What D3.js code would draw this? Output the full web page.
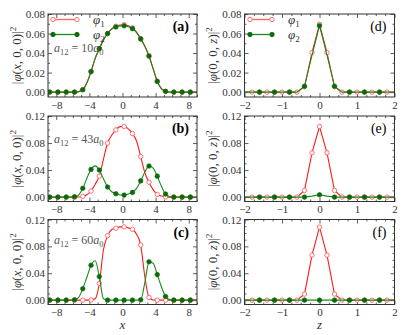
<!DOCTYPE html>
<html>
<head>
<meta charset="utf-8">
<script src="https://cdn.jsdelivr.net/npm/d3@7"></script>
<style>
body { margin: 0; background: #fff; }
svg text { font-family: "Liberation Serif", "DejaVu Serif", serif; }
</style>
</head>
<body>
<div id="chart"></div>
<script>
// x grid of the left column (markers sit on every other point)
const xGrid = [-9.3, -8.8, -8.3, -7.8, -7.3, -6.8, -6.3, -5.8, -5.3, -4.8, -4.3, -3.8, -3.3, -2.8, -2.3, -1.8, -1.3, -0.8, -0.3,
               0.2, 0.7, 1.2, 1.7, 2.2, 2.7, 3.2, 3.7, 4.2, 4.7, 5.2, 5.7, 6.2, 6.7, 7.2, 7.7, 8.2, 8.7, 9.2];

// (a) a12 = 10 a0
const phi1A = [0, 0, 0, 0, 0, 0, 0, 0, 0.0005, 0.0025, 0.0095, 0.021, 0.0345, 0.0445, 0.0535, 0.060, 0.065, 0.0675, 0.0688,
               0.069, 0.068, 0.0657, 0.0615, 0.0545, 0.047, 0.037, 0.024, 0.011, 0.0035, 0.0008, 0, 0, 0, 0, 0, 0, 0, 0];
const phi2A = [0, 0, 0, 0, 0, 0, 0, 0, 0.0005, 0.0025, 0.0095, 0.021, 0.0345, 0.0445, 0.0535, 0.060, 0.0645, 0.0667, 0.0678,
               0.0679, 0.067, 0.065, 0.061, 0.0545, 0.047, 0.037, 0.024, 0.011, 0.0035, 0.0008, 0, 0, 0, 0, 0, 0, 0, 0];
// (b) a12 = 43 a0
const phi1B = [0, 0, 0, 0, 0, 0, 0, 0, 0.0002, 0.001, 0.0035, 0.009, 0.019, 0.031, 0.056, 0.080, 0.0915, 0.0995, 0.1043,
               0.1045, 0.101, 0.094, 0.083, 0.060, 0.036, 0.022, 0.011, 0.004, 0.0015, 0.0003, 0, 0, 0, 0, 0, 0, 0, 0];
const phi2B = [0, 0, 0, 0, 0, 0, 0, 0.0005, 0.003, 0.013, 0.028, 0.041, 0.0462, 0.040, 0.027, 0.015, 0.008, 0.005, 0.0032,
               0.003, 0.0045, 0.007, 0.013, 0.024, 0.037, 0.046, 0.043, 0.031, 0.016, 0.0045, 0.0008, 0, 0, 0, 0, 0, 0, 0];
// (c) a12 = 60 a0
const phi1C = [0, 0, 0, 0, 0, 0, 0, 0, 0, 0, 0, 0.0002, 0.002, 0.025, 0.075, 0.096, 0.105, 0.107, 0.109,
               0.109, 0.1075, 0.1055, 0.098, 0.082, 0.035, 0.004, 0.0003, 0, 0, 0, 0, 0, 0, 0, 0, 0, 0, 0];
const phi2C = [0, 0, 0, 0, 0, 0, 0, 0.0005, 0.004, 0.017, 0.034, 0.052, 0.0585, 0.035, 0.002, 0, 0, 0, 0,
               0, 0, 0, 0, 0.0005, 0.026, 0.057, 0.055, 0.038, 0.020, 0.0054, 0.0008, 0, 0, 0, 0, 0, 0, 0];

// z grid of the right column
const zGrid = [-2, -1.8, -1.6, -1.4, -1.2, -1, -0.8, -0.6, -0.4, -0.2, 0, 0.2, 0.4, 0.6, 0.8, 1, 1.2, 1.4, 1.6, 1.8, 2];
const phi1D = [0, 0, 0, 0, 0, 0, 0, 0, 0.0055, 0.0405, 0.0695, 0.0405, 0.0055, 0, 0, 0, 0, 0, 0, 0, 0];
const phi2D = [0, 0, 0, 0, 0, 0, 0, 0, 0.006, 0.038, 0.068, 0.038, 0.006, 0, 0, 0, 0, 0, 0, 0, 0];
const phi1E = [0, 0, 0, 0, 0, 0, 0, 0, 0.0099, 0.0655, 0.1045, 0.0655, 0.0099, 0, 0, 0, 0, 0, 0, 0, 0];
const phi2E = [0, 0, 0, 0, 0, 0, 0, 0, 0, 0.0015, 0.0035, 0.0015, 0, 0, 0, 0, 0, 0, 0, 0, 0];
const phi1F = [0, 0, 0, 0, 0, 0, 0, 0, 0.009, 0.067, 0.1085, 0.067, 0.009, 0, 0, 0, 0, 0, 0, 0, 0];
const phi2F = [0, 0, 0, 0, 0, 0, 0, 0, 0, 0, 0, 0, 0, 0, 0, 0, 0, 0, 0, 0, 0];

const xTicks = [-8, -4, 0, 4, 8];
const xMinor = [-9, -7, -6, -5, -3, -2, -1, 1, 2, 3, 5, 6, 7, 9];
const zTicks = [-2, -1, 0, 1, 2];
const zMinor = [-1.75, -1.5, -1.25, -0.75, -0.5, -0.25, 0.25, 0.5, 0.75, 1.25, 1.5, 1.75];
const yTicksLow = [0, 0.02, 0.04, 0.06, 0.08];
const yMinorLow = [0.01, 0.03, 0.05, 0.07];
const yTicksHigh = [0, 0.04, 0.08, 0.12];
const yMinorHigh = [0.01, 0.02, 0.03, 0.05, 0.06, 0.07, 0.09, 0.10, 0.11];
const a12Labels = ['10', '43', '60'];

const W = 407, H = 335;
const red = '#ff1a1a', redMark = '#ff6060', green = '#1a8a1a', greenMark = '#0b6b0b';
const ink = '#333';

const svg = d3.select('#chart').append('svg').attr('width', W).attr('height', H);

const rows = [{top: 14, bottom: 97}, {top: 116, bottom: 201.5}, {top: 219.5, bottom: 304.5}];
const cols = [{left: 48, right: 197}, {left: 244.5, right: 394.5}];

const panels = [
  {tag: '(a)', row: 0, col: 0, s1: phi1A, s2: phi2A, ann: a12Labels[0], legend: true},
  {tag: '(b)', row: 1, col: 0, s1: phi1B, s2: phi2B, ann: a12Labels[1]},
  {tag: '(c)', row: 2, col: 0, s1: phi1C, s2: phi2C, ann: a12Labels[2], xlabel: 'x'},
  {tag: '(d)', row: 0, col: 1, s1: phi1D, s2: phi2D, legend: true},
  {tag: '(e)', row: 1, col: 1, s1: phi1E, s2: phi2E},
  {tag: '(f)', row: 2, col: 1, s1: phi1F, s2: phi2F, xlabel: 'z'}
];

panels.forEach(function(p, k) {
  const r = rows[p.row], c = cols[p.col];
  const left = p.col === 0;
  const grid = left ? xGrid : zGrid;
  const low = p.row === 0;

  const x = d3.scaleLinear().domain(left ? [-9, 9] : [-2, 2]).range([c.left, c.right]);
  const y = d3.scaleLinear().domain(low ? [-0.005, 0.08] : [-0.0065, 0.12]).range([r.bottom, r.top]);

  const g = svg.append('g');

  // inward ticks on all four sides
  const major = left ? xTicks : zTicks, minor = left ? xMinor : zMinor;
  const yMaj = low ? yTicksLow : yTicksHigh, yMin = low ? yMinorLow : yMinorHigh;

  function addAxis(axis, tr) {
    const a = g.append('g').attr('transform', tr).call(axis);
    a.select('.domain').remove();
    a.selectAll('line').attr('stroke', ink).attr('stroke-width', 0.8);
    a.selectAll('text').attr('fill', ink).style('font-size', '11px')
      .style('font-family', '"Liberation Serif", serif');
    return a;
  }
  addAxis(d3.axisBottom(x).tickValues(major).tickSize(-4).tickPadding(4).tickFormat(d3.format('d')), `translate(0,${r.bottom})`);
  addAxis(d3.axisBottom(x).tickValues(minor).tickSize(-2).tickFormat(''), `translate(0,${r.bottom})`);
  addAxis(d3.axisTop(x).tickValues(major).tickSize(-4).tickFormat(''), `translate(0,${r.top})`);
  addAxis(d3.axisTop(x).tickValues(minor).tickSize(-2).tickFormat(''), `translate(0,${r.top})`);
  addAxis(d3.axisLeft(y).tickValues(yMaj).tickSize(-4).tickPadding(3).tickFormat(d3.format('.2f')), `translate(${c.left},0)`);
  addAxis(d3.axisLeft(y).tickValues(yMin).tickSize(-2).tickFormat(''), `translate(${c.left},0)`);
  addAxis(d3.axisRight(y).tickValues(yMaj).tickSize(-4).tickFormat(''), `translate(${c.right},0)`);
  addAxis(d3.axisRight(y).tickValues(yMin).tickSize(-2).tickFormat(''), `translate(${c.right},0)`);

  // clip for the curves
  const clipId = 'clip' + k;
  svg.append('clipPath').attr('id', clipId).append('rect')
    .attr('x', c.left).attr('y', r.top).attr('width', c.right - c.left).attr('height', r.bottom - r.top);

  const line = d3.line()
    .x(function(d, i) { return x(grid[i]); })
    .y(function(d) { return y(d); })
    .curve(left ? d3.curveMonotoneX : d3.curveLinear);

  const plot = g.append('g').attr('clip-path', `url(#${clipId})`);

  // which points carry markers
  const mark1 = left ? function(i) { return i % 2 === 1 && i <= 35; } : function(i) { return i >= 1 && i <= 19; };
  const mark2 = left ? mark1 : function(i) { return i % 2 === 0 && i >= 2 && i <= 18; };

  // phi1
  plot.append('path').datum(p.s1).attr('d', line)
    .attr('fill', 'none').attr('stroke', red).attr('stroke-width', 1.1);
  plot.selectAll('.m1').data(p.s1.map(function(v, i) { return [grid[i], v, i]; }).filter(function(d) { return mark1(d[2]); }))
    .enter().append('circle')
    .attr('cx', function(d) { return x(d[0]); }).attr('cy', function(d) { return y(d[1]); })
    .attr('r', 2.2).attr('fill', '#fff').attr('stroke', redMark).attr('stroke-width', 0.9);

  // phi2
  plot.append('path').datum(p.s2).attr('d', line)
    .attr('fill', 'none').attr('stroke', green).attr('stroke-width', 1.1);
  plot.selectAll('.m2').data(p.s2.map(function(v, i) { return [grid[i], v, i]; }).filter(function(d) { return mark2(d[2]); }))
    .enter().append('circle')
    .attr('cx', function(d) { return x(d[0]); }).attr('cy', function(d) { return y(d[1]); })
    .attr('r', 2.3).attr('fill', greenMark).attr('stroke', greenMark).attr('stroke-width', 0.6);

  // frame
  g.append('rect').attr('x', c.left).attr('y', r.top)
    .attr('width', c.right - c.left).attr('height', r.bottom - r.top)
    .attr('fill', 'none').attr('stroke', ink).attr('stroke-width', 1);

  // panel tag
  g.append('text').attr('x', c.right - 8).attr('y', r.top + 17).attr('text-anchor', 'end')
    .attr('fill', '#000').style('font-size', '14px').style('font-weight', left ? 'bold' : 'normal')
    .text(p.tag);

  // y label
  const yl = g.append('text').attr('transform', `translate(${left ? 21 : 217},${(r.top + r.bottom) / 2}) rotate(-90)`)
    .attr('text-anchor', 'middle').attr('fill', ink).style('font-size', '13px');
  yl.append('tspan').text('|');
  yl.append('tspan').style('font-style', 'italic').text('φ');
  if (left) {
    yl.append('tspan').text('(');
    yl.append('tspan').style('font-style', 'italic').text('x');
    yl.append('tspan').text(', 0, 0)|');
  } else {
    yl.append('tspan').text('(0, 0, ');
    yl.append('tspan').style('font-style', 'italic').text('z');
    yl.append('tspan').text(')|');
  }
  yl.append('tspan').attr('dy', -5).style('font-size', '9px').text('2');

  // x label
  if (p.xlabel) {
    g.append('text').attr('x', x(0)).attr('y', 329).attr('text-anchor', 'middle')
      .attr('fill', ink).style('font-size', '13px').style('font-style', 'italic').text(p.xlabel);
  }

  // interaction strength note
  if (p.ann) {
    const ay = [52, 143, 244][p.row];
    const t = g.append('text').attr('x', c.left + 6).attr('y', ay).attr('fill', '#555').style('font-size', '12px');
    t.append('tspan').style('font-style', 'italic').text('a');
    t.append('tspan').attr('dy', 3).style('font-size', '8.5px').text('12');
    t.append('tspan').attr('dy', -3).text(' = ' + p.ann);
    t.append('tspan').style('font-style', 'italic').text('a');
    t.append('tspan').attr('dy', 3).style('font-size', '8.5px').text('0');
  }

  // legend
  if (p.legend) {
    const lx0 = left ? 53 : 250, lx1 = left ? 77 : 272, tx = left ? 93 : 288;
    [[19.5, redMark, 'open', '1'], [34.5, green, 'fill', '2']].forEach(function(e) {
      g.append('line').attr('x1', lx0).attr('x2', lx1).attr('y1', e[0]).attr('y2', e[0])
        .attr('stroke', e[1]).attr('stroke-width', 1.3);
      [lx0, lx1].forEach(function(cx) {
        g.append('circle').attr('cx', cx).attr('cy', e[0]).attr('r', 2.2)
          .attr('fill', e[2] === 'open' ? '#fff' : greenMark)
          .attr('stroke', e[2] === 'open' ? redMark : greenMark).attr('stroke-width', 0.9);
      });
      const lt = g.append('text').attr('x', tx).attr('y', e[0] + 4).attr('fill', ink).style('font-size', '13px');
      lt.append('tspan').style('font-style', 'italic').text('φ');
      lt.append('tspan').attr('dy', 3).style('font-size', '9px').text(e[3]);
    });
  }
});
</script>
</body>
</html>
